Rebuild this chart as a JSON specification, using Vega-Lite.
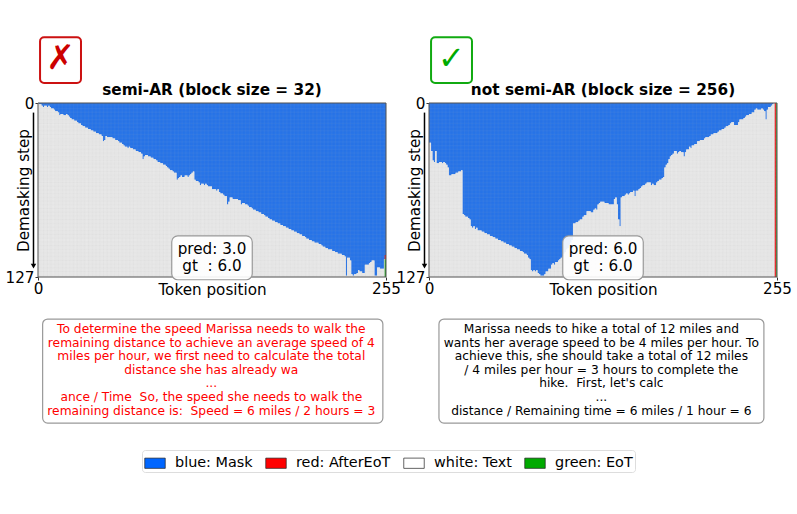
{
"$schema":"https://vega.github.io/schema/vega-lite/v6.json",
"background":"white",
"padding":{"left":5,"top":36,"right":5,"bottom":5},
"bounds":"flush",
"spacing":43,
"resolve":{"scale":{"color":"shared"},"legend":{"color":"shared"}},
"config":{
 "font":"DejaVu Sans",
 "view":{"stroke":null},
 "title":{"font":"DejaVu Sans","fontSize":15.3,"fontWeight":"bold","color":"black","offset":-62},
 "axis":{"labelFont":"DejaVu Sans","labelFontSize":15.2,"labelColor":"black","titleFont":"DejaVu Sans","titleFontSize":15.2,"titleFontWeight":"normal","titleColor":"black","tickColor":"#333","tickSize":3,"domain":false,"grid":false,"labelPadding":1},
 "legend":{"orient":"none","legendX":104,"legendY":347,"direction":"horizontal","columns":4,"columnPadding":11,"title":null,"labelFont":"DejaVu Sans","labelFontSize":14.4,"labelColor":"black","symbolType":"M-1,-0.5H1V0.5H-1Z","symbolSize":420,"symbolStrokeColor":"#222","symbolStrokeWidth":0.7,"symbolOpacity":1,"padding":2,"strokeColor":"#ddd","cornerRadius":3,"fillColor":"white","labelOffset":9,"rowPadding":0}
},
"datasets":{
 "steps":[{"y":0},{"y":1},{"y":2},{"y":3},{"y":4},{"y":5},{"y":6},{"y":7},{"y":8},{"y":9},{"y":10},{"y":11},{"y":12},{"y":13},{"y":14},{"y":15},{"y":16},{"y":17},{"y":18},{"y":19},{"y":20},{"y":21},{"y":22},{"y":23},{"y":24},{"y":25},{"y":26},{"y":27},{"y":28},{"y":29},{"y":30},{"y":31},{"y":32},{"y":33},{"y":34},{"y":35},{"y":36},{"y":37},{"y":38},{"y":39},{"y":40},{"y":41},{"y":42},{"y":43},{"y":44},{"y":45},{"y":46},{"y":47},{"y":48},{"y":49},{"y":50},{"y":51},{"y":52},{"y":53},{"y":54},{"y":55},{"y":56},{"y":57},{"y":58},{"y":59},{"y":60},{"y":61},{"y":62},{"y":63},{"y":64},{"y":65},{"y":66},{"y":67},{"y":68},{"y":69},{"y":70},{"y":71},{"y":72},{"y":73},{"y":74},{"y":75},{"y":76},{"y":77},{"y":78},{"y":79},{"y":80},{"y":81},{"y":82},{"y":83},{"y":84},{"y":85},{"y":86},{"y":87},{"y":88},{"y":89},{"y":90},{"y":91},{"y":92},{"y":93},{"y":94},{"y":95},{"y":96},{"y":97},{"y":98},{"y":99},{"y":100},{"y":101},{"y":102},{"y":103},{"y":104},{"y":105},{"y":106},{"y":107},{"y":108},{"y":109},{"y":110},{"y":111},{"y":112},{"y":113},{"y":114},{"y":115},{"y":116},{"y":117},{"y":118},{"y":119},{"y":120},{"y":121},{"y":122},{"y":123},{"y":124},{"y":125},{"y":126},{"y":127}],
 "semi":[{"x":0,"b":0},{"x":1,"b":1},{"x":2,"b":1},{"x":3,"b":2},{"x":4,"b":3},{"x":5,"b":2},{"x":6,"b":2},{"x":7,"b":3},{"x":8,"b":2},{"x":9,"b":3},{"x":10,"b":4},{"x":11,"b":4},{"x":12,"b":5},{"x":13,"b":6},{"x":14,"b":6},{"x":15,"b":7},{"x":16,"b":9},{"x":17,"b":8},{"x":18,"b":8},{"x":19,"b":9},{"x":20,"b":9},{"x":21,"b":8},{"x":22,"b":9},{"x":23,"b":10},{"x":24,"b":11},{"x":25,"b":12},{"x":26,"b":12},{"x":27,"b":13},{"x":28,"b":13},{"x":29,"b":14},{"x":30,"b":15},{"x":31,"b":15},{"x":32,"b":16},{"x":33,"b":17},{"x":34,"b":17},{"x":35,"b":18},{"x":36,"b":18},{"x":37,"b":19},{"x":38,"b":19},{"x":39,"b":20},{"x":40,"b":20},{"x":41,"b":21},{"x":42,"b":21},{"x":43,"b":22},{"x":44,"b":22},{"x":45,"b":23},{"x":46,"b":23},{"x":47,"b":24},{"x":48,"b":28},{"x":49,"b":27},{"x":50,"b":24},{"x":51,"b":25},{"x":52,"b":25},{"x":53,"b":25},{"x":54,"b":25},{"x":55,"b":26},{"x":56,"b":26},{"x":57,"b":27},{"x":58,"b":27},{"x":59,"b":28},{"x":60,"b":29},{"x":61,"b":29},{"x":62,"b":30},{"x":63,"b":31},{"x":64,"b":32},{"x":65,"b":32},{"x":66,"b":33},{"x":67,"b":32},{"x":68,"b":33},{"x":69,"b":33},{"x":70,"b":34},{"x":71,"b":34},{"x":72,"b":35},{"x":73,"b":35},{"x":74,"b":36},{"x":75,"b":36},{"x":76,"b":37},{"x":77,"b":41},{"x":78,"b":39},{"x":79,"b":38},{"x":80,"b":38},{"x":81,"b":39},{"x":82,"b":39},{"x":83,"b":40},{"x":84,"b":40},{"x":85,"b":41},{"x":86,"b":41},{"x":87,"b":42},{"x":88,"b":43},{"x":89,"b":43},{"x":90,"b":44},{"x":91,"b":44},{"x":92,"b":45},{"x":93,"b":45},{"x":94,"b":46},{"x":95,"b":47},{"x":96,"b":48},{"x":97,"b":49},{"x":98,"b":49},{"x":99,"b":50},{"x":100,"b":51},{"x":101,"b":51},{"x":102,"b":56},{"x":103,"b":55},{"x":104,"b":54},{"x":105,"b":53},{"x":106,"b":54},{"x":107,"b":54},{"x":108,"b":53},{"x":109,"b":53},{"x":110,"b":54},{"x":111,"b":53},{"x":112,"b":52},{"x":113,"b":51},{"x":114,"b":50},{"x":115,"b":56},{"x":116,"b":57},{"x":117,"b":57},{"x":118,"b":58},{"x":119,"b":60},{"x":120,"b":59},{"x":121,"b":59},{"x":122,"b":60},{"x":123,"b":59},{"x":124,"b":60},{"x":125,"b":61},{"x":126,"b":61},{"x":127,"b":61},{"x":128,"b":63},{"x":129,"b":63},{"x":130,"b":63},{"x":131,"b":64},{"x":132,"b":63},{"x":133,"b":65},{"x":134,"b":66},{"x":135,"b":66},{"x":136,"b":67},{"x":137,"b":68},{"x":138,"b":68},{"x":139,"b":74},{"x":140,"b":72},{"x":141,"b":69},{"x":142,"b":69},{"x":143,"b":70},{"x":144,"b":70},{"x":145,"b":70},{"x":146,"b":70},{"x":147,"b":71},{"x":148,"b":71},{"x":149,"b":74},{"x":150,"b":73},{"x":151,"b":73},{"x":152,"b":74},{"x":153,"b":74},{"x":154,"b":75},{"x":155,"b":76},{"x":156,"b":76},{"x":157,"b":77},{"x":158,"b":78},{"x":159,"b":78},{"x":160,"b":79},{"x":161,"b":79},{"x":162,"b":80},{"x":163,"b":80},{"x":164,"b":81},{"x":165,"b":81},{"x":166,"b":82},{"x":167,"b":83},{"x":168,"b":83},{"x":169,"b":84},{"x":170,"b":85},{"x":171,"b":85},{"x":172,"b":86},{"x":173,"b":86},{"x":174,"b":87},{"x":175,"b":87},{"x":176,"b":88},{"x":177,"b":88},{"x":178,"b":89},{"x":179,"b":89},{"x":180,"b":90},{"x":181,"b":90},{"x":182,"b":91},{"x":183,"b":91},{"x":184,"b":92},{"x":185,"b":92},{"x":186,"b":93},{"x":187,"b":93},{"x":188,"b":94},{"x":189,"b":94},{"x":190,"b":95},{"x":191,"b":95},{"x":192,"b":96},{"x":193,"b":96},{"x":194,"b":97},{"x":195,"b":97},{"x":196,"b":98},{"x":197,"b":99},{"x":198,"b":99},{"x":199,"b":100},{"x":200,"b":100},{"x":201,"b":101},{"x":202,"b":101},{"x":203,"b":102},{"x":204,"b":102},{"x":205,"b":102},{"x":206,"b":103},{"x":207,"b":103},{"x":208,"b":104},{"x":209,"b":105},{"x":210,"b":105},{"x":211,"b":106},{"x":212,"b":106},{"x":213,"b":107},{"x":214,"b":107},{"x":215,"b":107},{"x":216,"b":108},{"x":217,"b":108},{"x":218,"b":109},{"x":219,"b":109},{"x":220,"b":110},{"x":221,"b":110},{"x":222,"b":110},{"x":223,"b":111},{"x":224,"b":111},{"x":225,"b":112},{"x":226,"b":126},{"x":227,"b":113},{"x":228,"b":113},{"x":229,"b":115},{"x":230,"b":125},{"x":231,"b":126},{"x":232,"b":125},{"x":233,"b":125},{"x":234,"b":124},{"x":235,"b":122},{"x":236,"b":123},{"x":237,"b":123},{"x":238,"b":124},{"x":239,"b":124},{"x":240,"b":118},{"x":241,"b":118},{"x":242,"b":118},{"x":243,"b":117},{"x":244,"b":116},{"x":245,"b":115},{"x":246,"b":115},{"x":247,"b":126},{"x":248,"b":126},{"x":249,"b":120},{"x":250,"b":120},{"x":251,"b":121},{"x":252,"b":121},{"x":253,"b":121},{"x":254,"b":114},{"x":255,"b":114}],
 "full":[{"x":0,"b":29},{"x":1,"b":29},{"x":2,"b":35},{"x":3,"b":42},{"x":4,"b":43},{"x":5,"b":35},{"x":6,"b":44},{"x":7,"b":44},{"x":8,"b":43},{"x":9,"b":43},{"x":10,"b":44},{"x":11,"b":43},{"x":12,"b":44},{"x":13,"b":45},{"x":14,"b":47},{"x":15,"b":53},{"x":16,"b":53},{"x":17,"b":52},{"x":18,"b":52},{"x":19,"b":52},{"x":20,"b":51},{"x":21,"b":51},{"x":22,"b":50},{"x":23,"b":50},{"x":24,"b":49},{"x":25,"b":81},{"x":26,"b":82},{"x":27,"b":83},{"x":28,"b":83},{"x":29,"b":84},{"x":30,"b":85},{"x":31,"b":90},{"x":32,"b":91},{"x":33,"b":90},{"x":34,"b":92},{"x":35,"b":91},{"x":36,"b":93},{"x":37,"b":93},{"x":38,"b":93},{"x":39,"b":94},{"x":40,"b":94},{"x":41,"b":95},{"x":42,"b":95},{"x":43,"b":96},{"x":44,"b":96},{"x":45,"b":97},{"x":46,"b":97},{"x":47,"b":98},{"x":48,"b":98},{"x":49,"b":99},{"x":50,"b":99},{"x":51,"b":100},{"x":52,"b":100},{"x":53,"b":101},{"x":54,"b":101},{"x":55,"b":102},{"x":56,"b":102},{"x":57,"b":103},{"x":58,"b":103},{"x":59,"b":104},{"x":60,"b":104},{"x":61,"b":105},{"x":62,"b":105},{"x":63,"b":106},{"x":64,"b":106},{"x":65,"b":107},{"x":66,"b":107},{"x":67,"b":108},{"x":68,"b":108},{"x":69,"b":109},{"x":70,"b":110},{"x":71,"b":110},{"x":72,"b":111},{"x":73,"b":113},{"x":74,"b":114},{"x":75,"b":122},{"x":76,"b":123},{"x":77,"b":122},{"x":78,"b":123},{"x":79,"b":122},{"x":80,"b":124},{"x":81,"b":125},{"x":82,"b":126},{"x":83,"b":126},{"x":84,"b":126},{"x":85,"b":125},{"x":86,"b":123},{"x":87,"b":123},{"x":88,"b":121},{"x":89,"b":121},{"x":90,"b":118},{"x":91,"b":117},{"x":92,"b":118},{"x":93,"b":116},{"x":94,"b":116},{"x":95,"b":115},{"x":96,"b":114},{"x":97,"b":113},{"x":98,"b":112},{"x":99,"b":110},{"x":100,"b":109},{"x":101,"b":107},{"x":102,"b":106},{"x":103,"b":104},{"x":104,"b":102},{"x":105,"b":100},{"x":106,"b":88},{"x":107,"b":88},{"x":108,"b":87},{"x":109,"b":87},{"x":110,"b":86},{"x":111,"b":85},{"x":112,"b":85},{"x":113,"b":83},{"x":114,"b":82},{"x":115,"b":82},{"x":116,"b":79},{"x":117,"b":79},{"x":118,"b":79},{"x":119,"b":80},{"x":120,"b":80},{"x":121,"b":78},{"x":122,"b":77},{"x":123,"b":78},{"x":124,"b":74},{"x":125,"b":73},{"x":126,"b":72},{"x":127,"b":72},{"x":128,"b":72},{"x":129,"b":73},{"x":130,"b":73},{"x":131,"b":73},{"x":132,"b":74},{"x":133,"b":74},{"x":134,"b":74},{"x":135,"b":74},{"x":136,"b":70},{"x":137,"b":69},{"x":138,"b":74},{"x":139,"b":85},{"x":140,"b":90},{"x":141,"b":69},{"x":142,"b":68},{"x":143,"b":68},{"x":144,"b":67},{"x":145,"b":66},{"x":146,"b":67},{"x":147,"b":66},{"x":148,"b":65},{"x":149,"b":65},{"x":150,"b":64},{"x":151,"b":68},{"x":152,"b":64},{"x":153,"b":64},{"x":154,"b":63},{"x":155,"b":62},{"x":156,"b":61},{"x":157,"b":60},{"x":158,"b":60},{"x":159,"b":59},{"x":160,"b":58},{"x":161,"b":58},{"x":162,"b":58},{"x":163,"b":60},{"x":164,"b":59},{"x":165,"b":60},{"x":166,"b":60},{"x":167,"b":58},{"x":168,"b":57},{"x":169,"b":56},{"x":170,"b":56},{"x":171,"b":55},{"x":172,"b":54},{"x":173,"b":47},{"x":174,"b":45},{"x":175,"b":44},{"x":176,"b":41},{"x":177,"b":39},{"x":178,"b":38},{"x":179,"b":37},{"x":180,"b":35},{"x":181,"b":35},{"x":182,"b":37},{"x":183,"b":36},{"x":184,"b":35},{"x":185,"b":36},{"x":186,"b":36},{"x":187,"b":39},{"x":188,"b":36},{"x":189,"b":34},{"x":190,"b":34},{"x":191,"b":32},{"x":192,"b":33},{"x":193,"b":31},{"x":194,"b":31},{"x":195,"b":30},{"x":196,"b":30},{"x":197,"b":28},{"x":198,"b":28},{"x":199,"b":27},{"x":200,"b":27},{"x":201,"b":27},{"x":202,"b":26},{"x":203,"b":25},{"x":204,"b":25},{"x":205,"b":25},{"x":206,"b":24},{"x":207,"b":23},{"x":208,"b":23},{"x":209,"b":22},{"x":210,"b":22},{"x":211,"b":22},{"x":212,"b":21},{"x":213,"b":20},{"x":214,"b":20},{"x":215,"b":19},{"x":216,"b":19},{"x":217,"b":18},{"x":218,"b":17},{"x":219,"b":17},{"x":220,"b":16},{"x":221,"b":15},{"x":222,"b":14},{"x":223,"b":14},{"x":224,"b":16},{"x":225,"b":16},{"x":226,"b":16},{"x":227,"b":14},{"x":228,"b":12},{"x":229,"b":12},{"x":230,"b":12},{"x":231,"b":11},{"x":232,"b":10},{"x":233,"b":9},{"x":234,"b":9},{"x":235,"b":8},{"x":236,"b":8},{"x":237,"b":7},{"x":238,"b":7},{"x":239,"b":5},{"x":240,"b":4},{"x":241,"b":5},{"x":242,"b":5},{"x":243,"b":5},{"x":244,"b":4},{"x":245,"b":5},{"x":246,"b":6},{"x":247,"b":12},{"x":248,"b":5},{"x":249,"b":3},{"x":250,"b":3},{"x":251,"b":2},{"x":252,"b":1},{"x":253,"b":0},{"x":254,"b":0},{"x":255,"b":0}]
},
"hconcat":[
{"width":348,"height":174,"title":"semi-AR (block size = 32)","layer":[
 {"data":{"name":"semi"},"mark":{"type":"area","interpolate":"step","orient":"vertical"},"encoding":{
  "x":{"field":"x","type":"quantitative","scale":{"domain":[0,255],"nice":false,"zero":false},"axis":{"values":[0,255],"title":"Token position","titleY":5,"labelOverlap":false,"labelFlush":false}},
  "y":{"field":"b","type":"quantitative","scale":{"domain":[0,127],"nice":false,"zero":false,"reverse":true},"axis":{"values":[0,127],"title":"Demasking step","titleX":-7,"labelOverlap":false,"labelFlush":false}},
  "y2":{"datum":0},
  "color":{"datum":"blue: Mask","scale":{"domain":["blue: Mask","red: AfterEoT","white: Text","green: EoT"],"range":["#0066ff","#ff0000","#ffffff","#00aa00"]},"legend":{"title":null}}}},
 {"data":{"name":"semi"},"mark":{"type":"area","interpolate":"step","orient":"vertical"},"encoding":{
  "x":{"field":"x","type":"quantitative"},
  "y":{"field":"b","type":"quantitative"},
  "y2":{"datum":127},
  "color":{"datum":"white: Text"}}},
 {"data":{"values":[{"x":254,"x2":255,"from":111,"to":114,"kind":"red: AfterEoT"},{"x":254,"x2":255,"from":114,"to":127,"kind":"green: EoT"}]},"mark":{"type":"rect"},"encoding":{
  "x":{"field":"x","type":"quantitative"},"x2":{"field":"x2"},
  "y":{"field":"from","type":"quantitative"},"y2":{"field":"to"},
  "color":{"field":"kind","type":"nominal"}}},
 {"data":{"name":"semi"},"mark":{"type":"rule","color":"#a2a2a2","strokeWidth":0.15},"encoding":{"x":{"field":"x","type":"quantitative"},"y":{"datum":0},"y2":{"datum":127}}},
 {"data":{"name":"steps"},"mark":{"type":"rule","color":"#a2a2a2","strokeWidth":0.15},"encoding":{"y":{"field":"y","type":"quantitative"},"x":{"datum":0},"x2":{"datum":255}}},
 {"data":{"values":[{"x":0,"x2":255,"y":0,"y2":127}]},"mark":{"type":"rect","fill":"#a2a2a2","fillOpacity":0.1,"stroke":"#555555","strokeWidth":1},"encoding":{"x":{"field":"x","type":"quantitative"},"x2":{"field":"x2"},"y":{"field":"y","type":"quantitative"},"y2":{"field":"y2"}}},
 {"data":{"values":[{"x":1.5,"x2":31.5,"y":-48,"y2":-14.6}]},"mark":{"type":"rect","cornerRadius":4,"strokeWidth":2,"stroke":"#cc1111","fill":"white"},"encoding":{"x":{"field":"x","type":"quantitative"},"x2":{"field":"x2"},"y":{"field":"y","type":"quantitative"},"y2":{"field":"y2"}}},
 {"data":{"values":[{"x":16.5,"y":-32,"t":"✗"}]},"mark":{"type":"text","fontSize":34,"fontWeight":"bold","color":"#cc0000","font":"DejaVu Sans"},"encoding":{"x":{"field":"x","type":"quantitative"},"y":{"field":"y","type":"quantitative"},"text":{"field":"t"}}},
 {"data":{"values":[{"x":98,"x2":157,"y":97,"y2":129}]},"mark":{"type":"rect","cornerRadius":6,"stroke":"#999999","strokeWidth":1.2,"fill":"white","fillOpacity":0.9},"encoding":{"x":{"field":"x","type":"quantitative"},"x2":{"field":"x2"},"y":{"field":"y","type":"quantitative"},"y2":{"field":"y2"}}},
 {"data":{"values":[{"x":127.5,"y":106.6,"t":"pred: 3.0\ngt\u00a0\u00a0: 6.0"}]},"mark":{"type":"text","fontSize":15.2,"lineBreak":"\n","lineHeight":17,"color":"black"},"encoding":{"x":{"field":"x","type":"quantitative"},"y":{"field":"y","type":"quantitative"},"text":{"field":"t"}}},
 {"data":{"values":[{"x":3.4,"x2":252.7,"y":157.7,"y2":233.6}]},"mark":{"type":"rect","cornerRadius":5,"stroke":"#999999","strokeWidth":1.2,"fill":"white"},"encoding":{"x":{"field":"x","type":"quantitative"},"x2":{"field":"x2"},"y":{"field":"y","type":"quantitative"},"y2":{"field":"y2"}}},
 {"data":{"values":[{"x":127,"y":165,"t":"To determine the speed Marissa needs to walk the\nremaining distance to achieve an average speed of 4\nmiles per hour, we first need to calculate the total\ndistance she has already wa\n...\nance / Time\u00a0\u00a0So, the speed she needs to walk the\nremaining distance is:\u00a0\u00a0Speed = 6 miles / 2 hours = 3"}]},"mark":{"type":"text","fontSize":12.25,"lineBreak":"\n","lineHeight":13.6,"color":"#ff0000"},"encoding":{"x":{"field":"x","type":"quantitative"},"y":{"field":"y","type":"quantitative"},"text":{"field":"t"}}},
 {"data":{"values":[{"x":-3.3,"from":7,"to":119}]},"mark":{"type":"rule","color":"black","strokeWidth":1.5},"encoding":{"x":{"field":"x","type":"quantitative"},"y":{"field":"from","type":"quantitative"},"y2":{"field":"to"}}},
 {"data":{"values":[{"x":-3.3,"to":119}]},"mark":{"type":"point","shape":"triangle-down","filled":true,"color":"black","size":30,"opacity":1},"encoding":{"x":{"field":"x","type":"quantitative"},"y":{"field":"to","type":"quantitative"}}}
]},
{"width":348,"height":174,"title":"not semi-AR (block size = 256)","layer":[
 {"data":{"name":"full"},"mark":{"type":"area","interpolate":"step","orient":"vertical"},"encoding":{
  "x":{"field":"x","type":"quantitative","scale":{"domain":[0,255],"nice":false,"zero":false},"axis":{"values":[0,255],"title":"Token position","titleY":5,"labelOverlap":false,"labelFlush":false}},
  "y":{"field":"b","type":"quantitative","scale":{"domain":[0,127],"nice":false,"zero":false,"reverse":true},"axis":{"values":[0,127],"title":"Demasking step","titleX":-7,"labelOverlap":false,"labelFlush":false}},
  "y2":{"datum":0},
  "color":{"datum":"blue: Mask","scale":{"domain":["blue: Mask","red: AfterEoT","white: Text","green: EoT"],"range":["#0066ff","#ff0000","#ffffff","#00aa00"]},"legend":{"title":null}}}},
 {"data":{"name":"full"},"mark":{"type":"area","interpolate":"step","orient":"vertical"},"encoding":{
  "x":{"field":"x","type":"quantitative"},
  "y":{"field":"b","type":"quantitative"},
  "y2":{"datum":127},
  "color":{"datum":"white: Text"}}},
 {"data":{"values":[{"x":253.3,"x2":254.4,"from":0,"to":127,"kind":"red: AfterEoT"},{"x":254.4,"x2":255,"from":0,"to":127,"kind":"green: EoT"}]},"mark":{"type":"rect"},"encoding":{
  "x":{"field":"x","type":"quantitative"},"x2":{"field":"x2"},
  "y":{"field":"from","type":"quantitative"},"y2":{"field":"to"},
  "color":{"field":"kind","type":"nominal"}}},
 {"data":{"name":"full"},"mark":{"type":"rule","color":"#a2a2a2","strokeWidth":0.15},"encoding":{"x":{"field":"x","type":"quantitative"},"y":{"datum":0},"y2":{"datum":127}}},
 {"data":{"name":"steps"},"mark":{"type":"rule","color":"#a2a2a2","strokeWidth":0.15},"encoding":{"y":{"field":"y","type":"quantitative"},"x":{"datum":0},"x2":{"datum":255}}},
 {"data":{"values":[{"x":0,"x2":255,"y":0,"y2":127}]},"mark":{"type":"rect","fill":"#a2a2a2","fillOpacity":0.1,"stroke":"#555555","strokeWidth":1},"encoding":{"x":{"field":"x","type":"quantitative"},"x2":{"field":"x2"},"y":{"field":"y","type":"quantitative"},"y2":{"field":"y2"}}},
 {"data":{"values":[{"x":1.5,"x2":31.5,"y":-48,"y2":-14.6}]},"mark":{"type":"rect","cornerRadius":4,"strokeWidth":2,"stroke":"#11aa11","fill":"white"},"encoding":{"x":{"field":"x","type":"quantitative"},"x2":{"field":"x2"},"y":{"field":"y","type":"quantitative"},"y2":{"field":"y2"}}},
 {"data":{"values":[{"x":16.5,"y":-32,"t":"✓"}]},"mark":{"type":"text","fontSize":32,"fontWeight":"bold","color":"#00aa00","font":"DejaVu Sans"},"encoding":{"x":{"field":"x","type":"quantitative"},"y":{"field":"y","type":"quantitative"},"text":{"field":"t"}}},
 {"data":{"values":[{"x":98,"x2":157,"y":97,"y2":129}]},"mark":{"type":"rect","cornerRadius":6,"stroke":"#999999","strokeWidth":1.2,"fill":"white","fillOpacity":0.9},"encoding":{"x":{"field":"x","type":"quantitative"},"x2":{"field":"x2"},"y":{"field":"y","type":"quantitative"},"y2":{"field":"y2"}}},
 {"data":{"values":[{"x":127.5,"y":106.6,"t":"pred: 6.0\ngt\u00a0\u00a0: 6.0"}]},"mark":{"type":"text","fontSize":15.2,"lineBreak":"\n","lineHeight":17,"color":"black"},"encoding":{"x":{"field":"x","type":"quantitative"},"y":{"field":"y","type":"quantitative"},"text":{"field":"t"}}},
 {"data":{"values":[{"x":7.3,"x2":245.4,"y":157.7,"y2":233.6}]},"mark":{"type":"rect","cornerRadius":5,"stroke":"#999999","strokeWidth":1.2,"fill":"white"},"encoding":{"x":{"field":"x","type":"quantitative"},"x2":{"field":"x2"},"y":{"field":"y","type":"quantitative"},"y2":{"field":"y2"}}},
 {"data":{"values":[{"x":126.3,"y":165,"t":"Marissa needs to hike a total of 12 miles and\nwants her average speed to be 4 miles per hour. To\nachieve this, she should take a total of 12 miles\n/ 4 miles per hour = 3 hours to complete the\nhike.\u00a0\u00a0First, let's calc\n...\ndistance / Remaining time = 6 miles / 1 hour = 6"}]},"mark":{"type":"text","fontSize":12.25,"lineBreak":"\n","lineHeight":13.6,"color":"black"},"encoding":{"x":{"field":"x","type":"quantitative"},"y":{"field":"y","type":"quantitative"},"text":{"field":"t"}}},
 {"data":{"values":[{"x":-3.3,"from":7,"to":119}]},"mark":{"type":"rule","color":"black","strokeWidth":1.5},"encoding":{"x":{"field":"x","type":"quantitative"},"y":{"field":"from","type":"quantitative"},"y2":{"field":"to"}}},
 {"data":{"values":[{"x":-3.3,"to":119}]},"mark":{"type":"point","shape":"triangle-down","filled":true,"color":"black","size":30,"opacity":1},"encoding":{"x":{"field":"x","type":"quantitative"},"y":{"field":"to","type":"quantitative"}}}
]}
]
}
